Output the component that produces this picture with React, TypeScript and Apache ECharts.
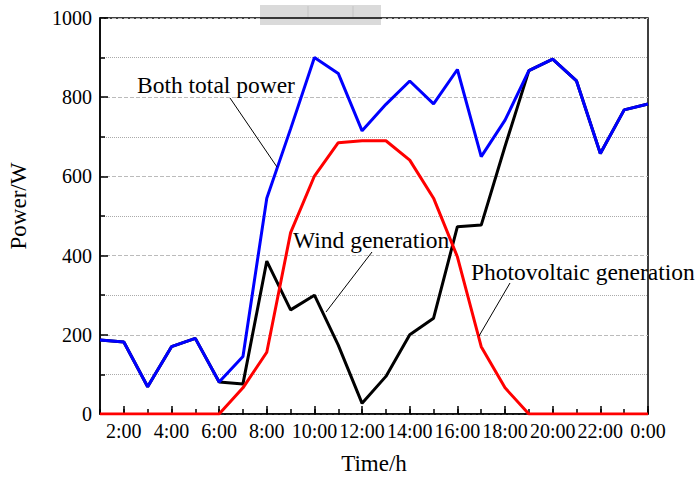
import React, { useEffect, useRef } from "react";
import * as echarts from "echarts";

const hours = [1, 2, 3, 4, 5, 6, 7, 8, 9, 10, 11, 12, 13, 14, 15, 16, 17, 18, 19, 20, 21, 22, 23, 24];
const totalPower = [187, 182, 69, 170, 191, 81, 145, 545, 720, 900, 860, 715, 782, 841, 783, 870, 650, 742, 867, 896, 841, 658, 768, 783];
const windGen = [187, 182, 69, 170, 191, 81, 76, 386, 263, 300, 174, 27, 95, 200, 242, 473, 477, 676, 867, 896, 841, 658, 768, 783];
const pvGen = [0, 0, 0, 0, 0, 0, 66, 156, 458, 601, 685, 690, 690, 641, 545, 397, 170, 66, 0, 0, 0, 0, 0, 0];
const majorHours = [2, 4, 6, 8, 10, 12, 14, 16, 18, 20, 22, 24];

const FONT = "Liberation Serif";

function pairs(vals: number[]) {
  return hours.map((h, i) => [h, vals[i]]);
}

export default function App() {
  const ref = useRef<HTMLDivElement>(null);
  useEffect(() => {
    if (!ref.current) return;
    const chart = echarts.init(ref.current, null, { renderer: "svg" });
    const axisLine = { show: true, lineStyle: { color: "#000", width: 1.5 } };
    chart.setOption({
      animation: false,
      backgroundColor: "#fff",
      grid: {
        left: 100,
        right: 48,
        top: 18,
        bottom: 63,
        show: true,
        borderColor: "#000",
        borderWidth: 1.5,
        backgroundColor: "transparent",
      },
      xAxis: [
        {
          type: "value",
          min: 1,
          max: 24,
          interval: 1,
          position: "bottom",
          axisLine,
          axisTick: { show: true, inside: true, length: 5, lineStyle: { color: "#000", width: 1.5 } },
          axisLabel: {
            color: "#000",
            fontFamily: FONT,
            fontSize: 20,
            margin: 7,
            showMinLabel: true,
            showMaxLabel: true,
            formatter: (v: number) => (v % 2 === 0 ? `${v % 24}:00` : ""),
          },
          splitLine: { show: false },
        },
        {
          type: "value",
          min: 1,
          max: 24,
          interval: 1,
          position: "bottom",
          axisLine: { show: false },
          axisTick: {
            show: true,
            inside: true,
            length: 8,
            customValues: majorHours,
            lineStyle: { color: "#000", width: 1.5 },
          },
          axisLabel: { show: false },
          splitLine: { show: false },
        },
      ],
      yAxis: {
        type: "value",
        min: 0,
        max: 1000,
        interval: 200,
        axisLine,
        axisTick: { show: true, inside: true, length: 8, lineStyle: { color: "#000", width: 1.5 } },
        minorTick: { show: true, splitNumber: 2, length: 5, lineStyle: { color: "#000", width: 1.5 } },
        axisLabel: {
          color: "#000",
          fontFamily: FONT,
          fontSize: 20,
          margin: 8,
          formatter: (v: number) => String(v),
        },
        splitLine: { show: true, lineStyle: { color: "#bbb", type: "dashed", width: 1 } },
        minorSplitLine: { show: true, lineStyle: { color: "#aaa", type: "dotted", width: 1 } },
      },
      series: [
        {
          name: "Wind generation",
          type: "line",
          xAxisIndex: 0,
          data: pairs(windGen),
          showSymbol: false,
          symbol: "none",
          lineStyle: { color: "#000", width: 3 },
          z: 2,
        },
        {
          name: "Photovoltaic generation",
          type: "line",
          xAxisIndex: 0,
          data: pairs(pvGen),
          showSymbol: false,
          symbol: "none",
          lineStyle: { color: "#ff0000", width: 3 },
          z: 3,
        },
        {
          name: "Both total power",
          type: "line",
          xAxisIndex: 0,
          data: pairs(totalPower),
          showSymbol: false,
          symbol: "none",
          lineStyle: { color: "#0000ff", width: 3 },
          z: 4,
        },
      ],
      graphic: [
        {
          type: "rect",
          shape: { x: 260, y: 5, width: 121, height: 20 },
          style: { fill: "#dadada" },
          z: 100,
        },
        {
          type: "line",
          shape: { x1: 308, y1: 6, x2: 308, y2: 17 },
          style: { stroke: "#c4c4c4", lineWidth: 1 },
          z: 101,
        },
        {
          type: "line",
          shape: { x1: 353, y1: 6, x2: 353, y2: 17 },
          style: { stroke: "#c4c4c4", lineWidth: 1 },
          z: 101,
        },
        {
          type: "line",
          shape: { x1: 260, y1: 18, x2: 381, y2: 18 },
          style: { stroke: "#000", lineWidth: 1.5 },
          z: 101,
        },
        {
          type: "text",
          x: 137,
          y: 85,
          style: { text: "Both total power", fontFamily: FONT, fontSize: 23.5, fill: "#000", textAlign: "left", textVerticalAlign: "middle" },
          z: 100,
        },
        {
          type: "line",
          shape: { x1: 230, y1: 98, x2: 277, y2: 167 },
          style: { stroke: "#000", lineWidth: 1 },
          z: 100,
        },
        {
          type: "text",
          x: 293,
          y: 240,
          style: { text: "Wind generation", fontFamily: FONT, fontSize: 23.5, fill: "#000", textAlign: "left", textVerticalAlign: "middle" },
          z: 100,
        },
        {
          type: "line",
          shape: { x1: 372, y1: 252, x2: 326, y2: 312 },
          style: { stroke: "#000", lineWidth: 1 },
          z: 100,
        },
        {
          type: "text",
          x: 471,
          y: 272,
          style: { text: "Photovoltaic generation", fontFamily: FONT, fontSize: 23.5, fill: "#000", textAlign: "left", textVerticalAlign: "middle" },
          z: 100,
        },
        {
          type: "line",
          shape: { x1: 510, y1: 283, x2: 479, y2: 336 },
          style: { stroke: "#000", lineWidth: 1 },
          z: 100,
        },
        {
          type: "text",
          x: 18,
          y: 206,
          rotation: Math.PI / 2,
          style: { text: "Power/W", fontFamily: FONT, fontSize: 23, fill: "#000", textAlign: "center", textVerticalAlign: "middle" },
          z: 100,
        },
        {
          type: "text",
          x: 374,
          y: 463,
          style: { text: "Time/h", fontFamily: FONT, fontSize: 23, fill: "#000", textAlign: "center", textVerticalAlign: "middle" },
          z: 100,
        },
      ],
    });
    return () => chart.dispose();
  }, []);
  return <div ref={ref} style={{ width: 696, height: 477, position: "absolute", left: 0, top: 0 }} />;
}
